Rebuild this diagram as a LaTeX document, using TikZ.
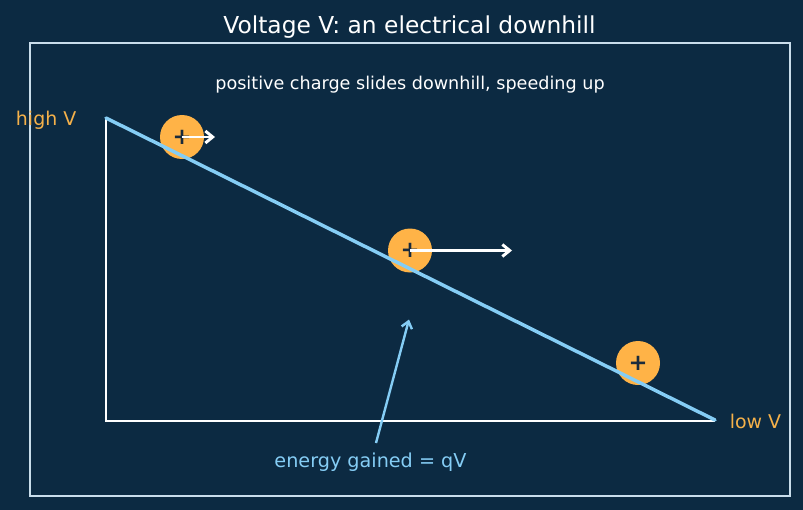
\documentclass[tikz,border=0pt]{standalone}
\usepackage{fontspec}
\setmainfont{DejaVu Sans}
\usetikzlibrary{arrows.meta}
\definecolor{bgnavy}{HTML}{0C2A42}
\definecolor{framecol}{HTML}{C9DDEB}
\definecolor{chargeorange}{HTML}{FFB347}
\definecolor{labelorange}{HTML}{F5B14A}
\definecolor{skyline}{HTML}{85CDF5}
\definecolor{plusdark}{HTML}{1A2B3C}
\tikzset{
  charge/.style={circle, fill=chargeorange, minimum size=33pt, inner sep=0pt,
    text=plusdark, font=\fontsize{17}{17}\selectfont\bfseries},
  vlabel/.style={text=labelorange, font=\fontsize{14.2}{16}\selectfont, inner sep=0pt},
  axisline/.style={white, line width=1.5pt},
  slope/.style={skyline, line width=2.6pt},
  velocity/.style={white, line width=2.2pt, -{Straight Barb[length=5.5pt,width=9pt]}},
  energyarrow/.style={skyline, line width=1.8pt, -{Straight Barb[length=5pt,width=8pt]}}
}
\begin{document}
\begin{tikzpicture}[x=0.75pt, y=-0.75pt]
  % background and outer frame
  \fill[bgnavy] (0,0) rectangle (803,510);
  \useasboundingbox (0,0) rectangle (803,510);
  \draw[framecol, line width=1.1pt] (30,43) rectangle (790,496);

  % headings
  \node[text=white, font=\fontsize{17.5}{20}\selectfont] (title) at (409.5,27) {Voltage V: an electrical downhill};
  \node[text=white, font=\fontsize{13.2}{15}\selectfont] (subtitle) at (410,85) {positive charge slides downhill, speeding up};

  % potential slope and axes
  \coordinate (top) at (106,118);
  \coordinate (corner) at (106,421);
  \coordinate (bottom) at (715,421);
  \coordinate (slopeend) at (715,420);
  \draw[axisline] (top) -- (corner) -- (bottom);

  % charges on the slope
  \node[charge] (c1) at (182,137) {+};
  \node[charge] (c2) at (410,250.5) {+};
  \node[charge] (c3) at (638,363) {+};

  \draw[slope, line cap=round] (top) -- (slopeend);

  % speed arrows
  \coordinate (v1) at (215,137);
  \coordinate (v2) at (512,250.5);
  \draw[velocity] (c1.center) -- (v1);
  \draw[velocity] (c2.center) -- (v2);

  % end labels
  \node[vlabel, anchor=east] (highV) at (76.5,120) {high V};
  \node[vlabel, anchor=west] (lowV) at (729.5,421) {low V};

  % energy annotation
  \node[text=skyline, font=\fontsize{14.4}{16}\selectfont] (energy) at (370.5,462) {energy gained = qV};
  \coordinate (etail) at (376,443);
  \coordinate (ehead) at (409,319.5);
  \draw[energyarrow] (etail) -- (ehead);
\end{tikzpicture}
\end{document}
